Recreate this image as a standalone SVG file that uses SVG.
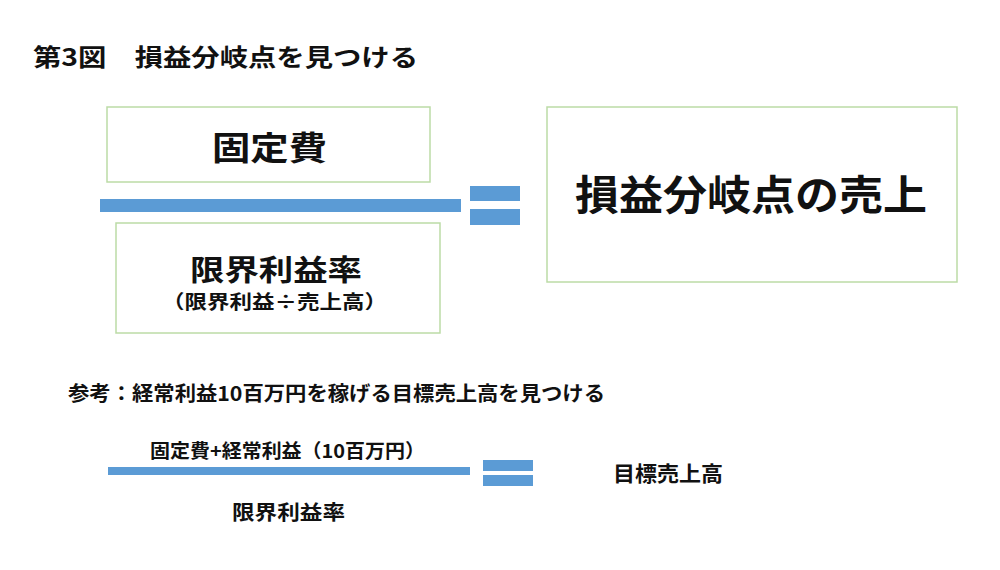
<svg xmlns="http://www.w3.org/2000/svg" width="1000" height="570" viewBox="0 0 1000 570">
<style>
text{font-family:"Noto Sans CJK JP","Noto Sans CJK SC",sans-serif;font-weight:700;fill:#111;}
.box{fill:#fff;stroke:#bcdba6;stroke-width:1.5;}
.bar{fill:#5b9bd5;}
</style>
<rect width="1000" height="570" fill="#fff"/>
<text x="33" y="66" font-size="24" textLength="385" lengthAdjust="spacingAndGlyphs">第3図　損益分岐点を見つける</text>
<g id="fixed-cost">
<rect class="box" x="107" y="107" width="323" height="75"/>
<text x="212" y="160" font-size="33" textLength="115" lengthAdjust="spacingAndGlyphs">固定費</text>
</g>
<g id="marginal-rate">
<rect class="box" x="116" y="223" width="324" height="110"/>
<text x="190" y="281" font-size="29" textLength="172" lengthAdjust="spacingAndGlyphs">限界利益率</text>
<text x="162" y="309" font-size="19" textLength="225" lengthAdjust="spacingAndGlyphs">（限界利益÷売上高）</text>
</g>
<g id="bep-sales">
<rect class="box" x="547" y="107" width="410" height="175"/>
<text x="575" y="210" font-size="41" textLength="352" lengthAdjust="spacingAndGlyphs">損益分岐点の売上</text>
</g>
<g id="connectors">
<rect class="bar" x="100" y="199" width="361" height="13"/>
<rect class="bar" x="470" y="186" width="50" height="15"/>
<rect class="bar" x="470" y="209" width="50" height="16"/>
<rect class="bar" x="108" y="467" width="362" height="8"/>
<rect class="bar" x="483" y="460" width="50" height="11"/>
<rect class="bar" x="483" y="475" width="50" height="11"/>
</g>
<g id="reference">
<text x="68" y="401" font-size="20" textLength="537" lengthAdjust="spacingAndGlyphs">参考：経常利益10百万円を稼げる目標売上高を見つける</text>
<text x="150" y="458" font-size="19" textLength="275" lengthAdjust="spacingAndGlyphs">固定費+経常利益（10百万円）</text>
<text x="232" y="520" font-size="20" textLength="113" lengthAdjust="spacingAndGlyphs">限界利益率</text>
<text x="613" y="481" font-size="21" textLength="110" lengthAdjust="spacingAndGlyphs">目標売上高</text>
</g>
</svg>
